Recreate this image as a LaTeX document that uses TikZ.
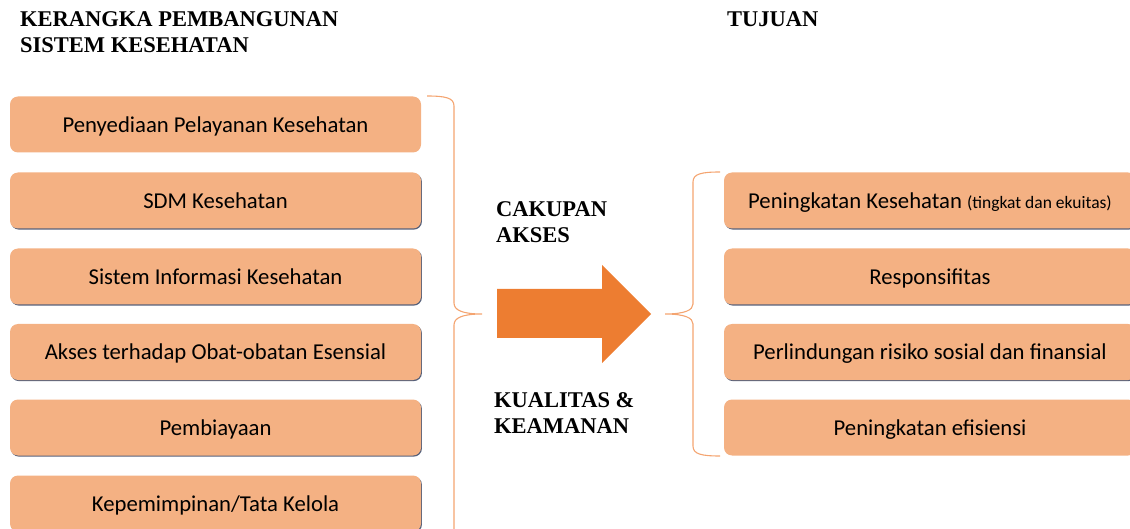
\documentclass[tikz,border=0pt]{standalone}
\usepackage{fontspec}
\setmainfont{Liberation Serif}
\newfontfamily\bodyfont{Carlito}
\definecolor{boxfill}{HTML}{F4B183}
\definecolor{boxedge}{HTML}{56607A}
\definecolor{arrowc}{HTML}{ED7D31}
\definecolor{bracec}{HTML}{F4A470}
\begin{document}
\begin{tikzpicture}[x=1pt,y=-1pt,
  heading/.style={anchor=base west,inner sep=0pt,font=\bfseries\fontsize{22.5}{26}\selectfont},
  box/.style={rounded corners=8pt,fill=boxfill,minimum height=56pt,inner sep=0pt,
    text height=18pt,text depth=2.6pt,
    font=\bodyfont\fontsize{22.7}{27}\selectfont},
  leftbox/.style={box,minimum width=411pt},
  rightbox/.style={box,minimum width=412pt},
  shade/.style={preaction={fill=boxedge,transform canvas={shift={(0.9pt,-1.1pt)}}}},
  brace/.style={draw=bracec,line width=1.1pt},
]
\useasboundingbox (0,0) rectangle (1130,529);
\clip (0,0) rectangle (1130,529);

% headings
\node[heading] (h1) at (20,27) {KERANGKA PEMBANGUNAN};
\node[heading] (h2) at (20,53) {SISTEM KESEHATAN};
\node[heading] (h3) at (727,27) {TUJUAN};

% building blocks of the health system
\node[leftbox] (l1) at (215.5,124.5) {Penyediaan Pelayanan Kesehatan};
\node[leftbox,shade] (l2) at (215.5,200.5) {SDM Kesehatan};
\node[leftbox,shade] (l3) at (215.5,276.5) {Sistem Informasi Kesehatan};
\node[leftbox,shade] (l4) at (215.5,352) {Akses terhadap Obat-obatan Esensial};
\node[leftbox,shade] (l5) at (215.5,427.5) {Pembiayaan};
\node[leftbox,shade] (l6) at (215.5,503.5) {Kepemimpinan/Tata Kelola};

% goals
\node[rightbox,shade] (r1) at (930,200.5) {Peningkatan Kesehatan {\fontsize{17.5}{20}\selectfont(tingkat dan ekuitas)}};
\node[rightbox,shade] (r2) at (930,276.5) {Responsifitas};
\node[rightbox,shade] (r3) at (930,352) {Perlindungan risiko sosial dan finansial};
\node[rightbox] (r4) at (930,427.5) {Peningkatan efisiensi};

% middle labels
\node[heading] (m1) at (496,217) {CAKUPAN};
\node[heading] (m2) at (496,243) {AKSES};
\node[heading] (m3) at (494,407) {KUALITAS \&};
\node[heading] (m4) at (494,433) {KEAMANAN};

% braces
\draw[brace] (427,96) .. controls (446,96) and (454,98) .. (454,106)
  -- (454,303) .. controls (454,310) and (462,314) .. (482,314)
  .. controls (462,314) and (454,318) .. (454,325) -- (454,540);
\draw[brace] (720,172) .. controls (701,172) and (693,174) .. (693,182)
  -- (693,304) .. controls (693,310) and (685,314) .. (665,314)
  .. controls (685,314) and (693,318) .. (693,324)
  -- (693,446) .. controls (693,454) and (701,456) .. (720,456);

% big arrow
\fill[arrowc] (497,289) -- (602,289) -- (602,265) -- (651,314)
  -- (602,363) -- (602,338) -- (497,338) -- cycle;
\end{tikzpicture}
\end{document}
